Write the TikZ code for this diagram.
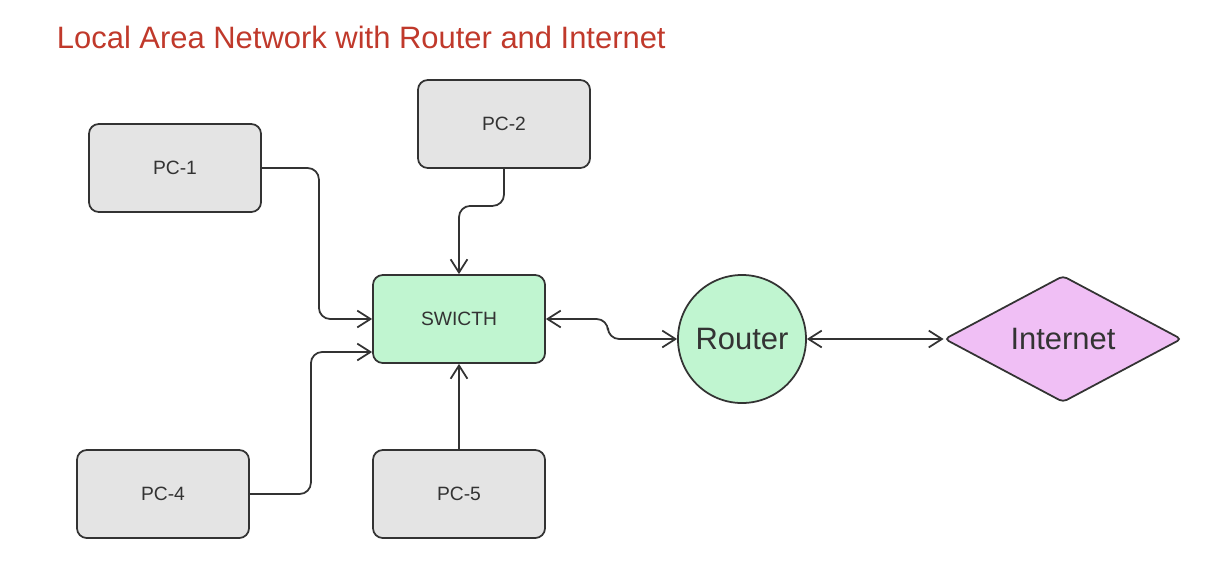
\documentclass[tikz,border=0pt]{standalone}
\usepackage{fontspec}
\setmainfont{Liberation Sans}
\usepackage{tikz}
\usetikzlibrary{calc}
\usetikzlibrary{shapes,arrows.meta,positioning}

\definecolor{pcgray}{HTML}{E4E4E4}
\definecolor{swgreen}{HTML}{C0F5D0}
\definecolor{netpink}{HTML}{F0BFF5}
\definecolor{titlered}{HTML}{C0392B}
\definecolor{inkgray}{HTML}{333333}

\begin{document}
\begin{tikzpicture}[x=0.025cm,y=-0.025cm,
  >={Straight Barb[length=3.3mm,width=4.2mm]},
  pcbox/.style={draw=inkgray, line width=1.25pt, rounded corners=7pt, fill=pcgray,
    minimum width=4.3cm, minimum height=2.2cm, text=inkgray, font=\fontsize{13.7}{16}\selectfont},
  swbox/.style={pcbox, fill=swgreen},
  link/.style={draw=inkgray, line width=1.25pt, rounded corners=8pt}]

\useasboundingbox (0,0) rectangle (1205,581);

% title
\node[anchor=west, text=titlered, font=\fontsize{22}{26}\selectfont] (title) at (52,37)
  {Local Area Network with Router and Internet};

% the PCs and the switch
\node[pcbox] (pc1) at (175,168) {PC-1};
\node[pcbox] (pc2) at (504,124) {PC-2};
\node[pcbox] (pc4) at (163,494) {PC-4};
\node[pcbox] (pc5) at (459,494) {PC-5};
\node[swbox] (sw) at (459,319) {SWICTH};

% router and internet
\node[draw=inkgray, line width=1.25pt, circle, fill=swgreen, minimum size=3.2cm,
  text=inkgray, font=\fontsize{22}{26}\selectfont] (rt) at (742,339) {Router};
\node[draw=inkgray, line width=1.25pt, diamond, fill=netpink, rounded corners=3pt,
  minimum width=5.925cm, minimum height=3.1cm, inner sep=0pt,
  text=inkgray, font=\fontsize{22}{26}\selectfont] (inet) at (1063,339) {Internet};

\draw[link, ->] (pc1.east) -- ++(57,0) |- (sw.west);
\draw[link, ->] (pc2.south) -- ++(0,37) -| (sw.north);
\draw[link, ->] (pc4.east) -- ++(61,0) |- ($(sw.west)+(0,33)$);
\draw[link, ->] (pc5.north) -- (sw.south);
\draw[link, <->] (sw.east) -- ++(62,0) |- (rt.west);
\draw[link, <->] (rt.east) -- (inet.west);

\end{tikzpicture}
\end{document}
